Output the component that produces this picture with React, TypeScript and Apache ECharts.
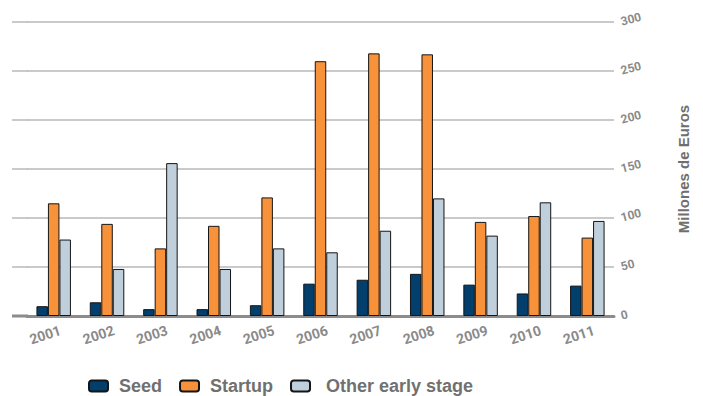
import React, { useEffect, useRef } from "react";
import * as echarts from "echarts";

const years = ["2001", "2002", "2003", "2004", "2005", "2006", "2007", "2008", "2009", "2010", "2011"];
const seed = [10, 14, 7, 7, 11, 33, 37, 43, 32, 23, 31];
const startup = [115, 94, 69, 92, 121, 260, 268, 267, 96, 102, 80];
const otherEarly = [78, 48, 156, 48, 69, 65, 87, 120, 82, 116, 97];
const yTicks = [0, 50, 100, 150, 200, 250, 300];

const tickFont = "Roboto, 'DejaVu Sans', sans-serif";
const labelFont = "'Liberation Sans', Arial, sans-serif";

export default function App() {
  const ref = useRef<HTMLDivElement>(null);
  useEffect(() => {
    if (!ref.current) return;
    const chart = echarts.init(ref.current, undefined, { renderer: "svg" });
    const border = { borderColor: "#151515", borderWidth: 1 };
    const gridLeft = 27;
    chart.setOption({
      animation: false,
      backgroundColor: "#ffffff",
      grid: { left: gridLeft, right: 89, top: 22, bottom: 80 },
      legend: {
        left: 83,
        top: 372,
        itemWidth: 19,
        itemHeight: 11,
        itemGap: 17,
        textStyle: {
          fontFamily: labelFont,
          fontWeight: "bold",
          fontSize: 18,
          color: "#707070",
        },
        data: [
          { name: "Seed", textStyle: { padding: [0, 6, 0, 6] } },
          { name: "Startup", textStyle: { padding: [0, 0, 0, 6] } },
          { name: "Other early stage", textStyle: { padding: [0, 0, 0, 11] } },
        ],
      },
      xAxis: {
        type: "category",
        data: years,
        axisLine: { lineStyle: { color: "#8c8c8c", width: 3 } },
        axisTick: { show: false },
        axisLabel: {
          interval: 0,
          rotate: 18,
          margin: 16,
          align: "center",
          verticalAlign: "middle",
          padding: [0, 18, 0, 0],
          fontFamily: tickFont,
          fontWeight: "bold",
          fontSize: 14,
          color: "#8a8a8a",
        },
      },
      yAxis: {
        type: "value",
        position: "right",
        min: 0,
        max: 300,
        interval: 50,
        name: "Millones de Euros",
        nameLocation: "middle",
        nameRotate: 90,
        nameGap: 62,
        nameTextStyle: {
          fontFamily: labelFont,
          fontWeight: "bold",
          fontSize: 15,
          color: "#6f6f6f",
        },
        axisLine: { show: false },
        axisTick: { show: false },
        axisLabel: {
          rotate: 15,
          margin: 7,
          fontFamily: tickFont,
          fontWeight: "bold",
          fontSize: 12,
          color: "#8a8a8a",
        },
        splitLine: { show: true, lineStyle: { color: "#b9b9b9", width: 1.5 } },
      },
      series: [
        { name: "Seed", type: "bar", data: seed, barWidth: 11.5, barGap: "0%", itemStyle: { color: "#023f6d", ...border } },
        { name: "Startup", type: "bar", data: startup, barWidth: 11.5, barGap: "0%", itemStyle: { color: "#f7913a", ...border } },
        { name: "Other early stage", type: "bar", data: otherEarly, barWidth: 11.5, barGap: "0%", itemStyle: { color: "#c0cfdc", ...border } },
      ],
    });
    // extend gridlines and axis line slightly to the left of the plotting area
    const ext = yTicks.map((v) => {
      const y = chart.convertToPixel({ yAxisIndex: 0 }, v) as number;
      return {
        type: "line",
        z: -1,
        shape: { x1: 12, y1: y, x2: gridLeft + 1, y2: y },
        style: v === 0 ? { stroke: "#8c8c8c", lineWidth: 3 } : { stroke: "#b9b9b9", lineWidth: 1.5 },
      };
    });
    chart.setOption({ graphic: ext });
    return () => chart.dispose();
  }, []);
  return <div ref={ref} style={{ width: 703, height: 396, position: "absolute", left: 0, top: 0 }} />;
}
